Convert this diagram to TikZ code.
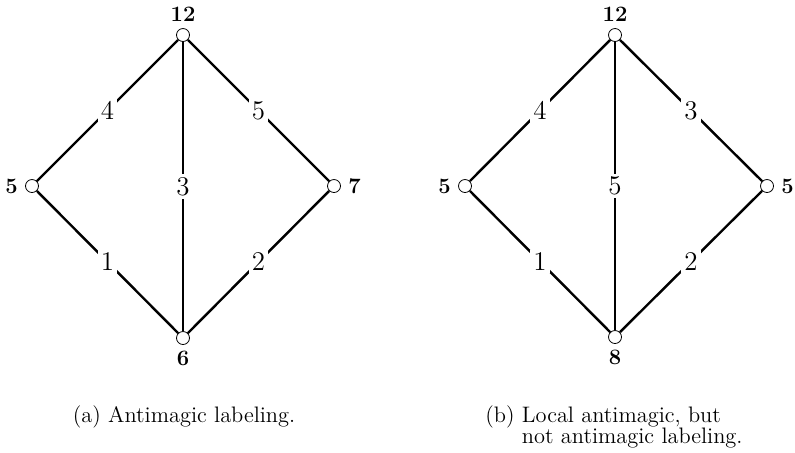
\documentclass[tikz,border=0pt]{standalone}
\usepackage{tikz}
\usetikzlibrary{positioning}

\begin{document}
\begin{tikzpicture}[
        x=0.5pt, y=-0.5pt,
        vertex/.style={
            draw,
            circle,
            fill=white,
            inner sep=0pt,
            minimum size=6.5pt,
            line width=0.4pt
        },
        edge/.style={
            line width=1.2pt
        },
        weight/.style={
            fill=white,
            inner sep=1.5pt,
            font=\fontsize{13.5}{13.5}\selectfont
        },
        vsum/.style={
            font=\fontsize{11}{11}\selectfont\bfseries,
            inner sep=0pt,
            anchor=center,
            label distance=6.8pt
        },
        caption/.style={
            font=\fontsize{11.2}{10.5}\selectfont,
            inner sep=0pt
        }
    ]
        \useasboundingbox (0,0) rectangle (795,452);

        % (a) Antimagic labeling
        \node (a-t) [vertex, label={[vsum]above:12}] at (183,35) {};
        \node (a-l) [vertex, label={[vsum]left:5}] at (32,186) {};
        \node (a-r) [vertex, label={[vsum]right:7}] at (334,186) {};
        \node (a-b) [vertex, label={[vsum]below:6}] at (183,338) {};

        \draw [edge] (a-t) -- node [weight] {4} (a-l);
        \draw [edge] (a-t) -- node [weight] {5} (a-r);
        \draw [edge] (a-t) -- node [weight] {3} (a-b);
        \draw [edge] (a-l) -- node [weight] {1} (a-b);
        \draw [edge] (a-r) -- node [weight] {2} (a-b);

        \node (cap-a) [caption, anchor=base] at (184,422) {(a) Antimagic labeling.};

        % (b) Local antimagic, but not antimagic labeling
        \node (b-t) [vertex, label={[vsum]above:12}] at (615,35) {};
        \node (b-l) [vertex, label={[vsum]left:5}] at (465,186) {};
        \node (b-r) [vertex, label={[vsum]right:5}] at (767,186) {};
        \node (b-b) [vertex, label={[vsum]below:8}] at (615,337) {};

        \draw [edge] (b-t) -- node [weight] {4} (b-l);
        \draw [edge] (b-t) -- node [weight] {3} (b-r);
        \draw [edge] (b-t) -- node [weight] {5} (b-b);
        \draw [edge] (b-l) -- node [weight] {1} (b-b);
        \draw [edge] (b-r) -- node [weight] {2} (b-b);

        \node (cap-b) [caption, anchor=base west] at (485,422)
            {\begin{tabular}[t]{@{}l@{ }l@{}}(b) & Local antimagic, but\\ & not antimagic labeling.\end{tabular}};
    \end{tikzpicture}
\end{document}
